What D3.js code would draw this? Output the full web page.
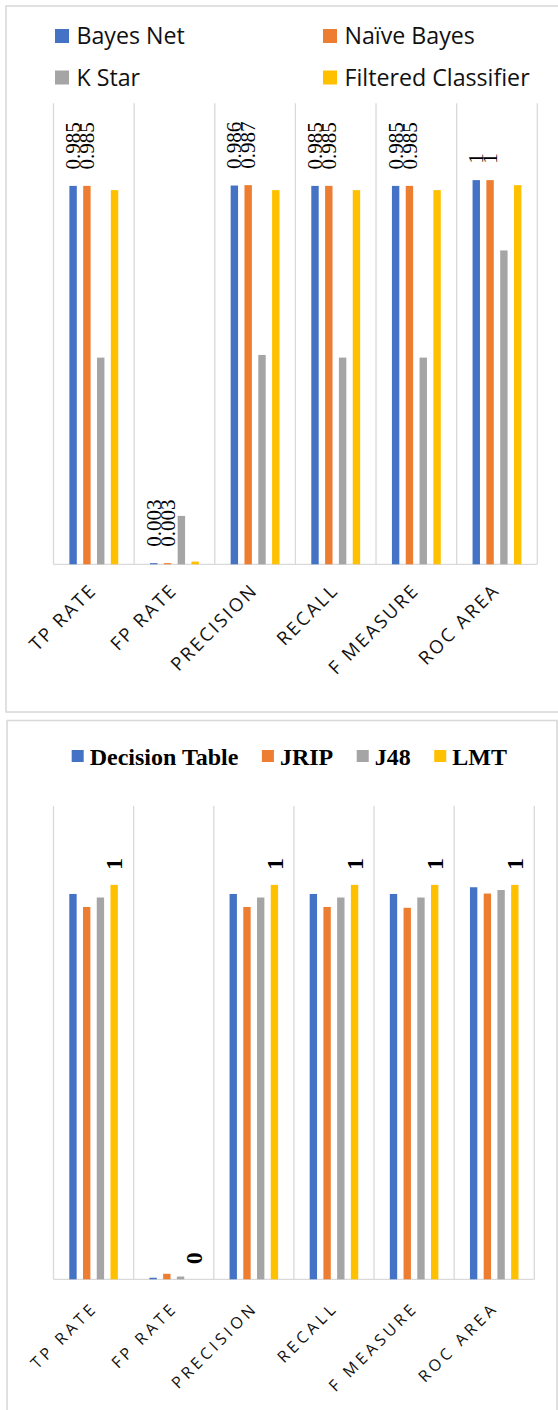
<!DOCTYPE html>
<html>
<head>
<meta charset="utf-8">
<script src="https://cdn.jsdelivr.net/npm/d3@7"></script>
<style>
  html, body { margin: 0; padding: 0; background: #fff; }
  svg { display: block; }
</style>
</head>
<body>
<svg id="chart" width="558" height="1410"></svg>
<script>
// Evaluation metrics shared by both charts
const metrics = ["TP RATE", "FP RATE", "PRECISION", "RECALL", "F MEASURE", "ROC AREA"];

// Chart 1: Bayes Net, Naïve Bayes, K Star, Filtered Classifier
const seriesA = ["Bayes Net", "Naïve Bayes", "K Star", "Filtered Classifier"];
const bayesNet = [0.985, 0.003, 0.986, 0.985, 0.985, 1];
const naiveBayes = [0.985, 0.003, 0.987, 0.985, 0.985, 1];
const kStar = [0.538, 0.126, 0.545, 0.538, 0.538, 0.817];
const filteredClassifier = [0.974, 0.007, 0.974, 0.974, 0.974, 0.987];
const labelledA = ["Bayes Net", "Naïve Bayes"];

// Chart 2: Decision Table, JRIP, J48, LMT
const seriesB = ["Decision Table", "JRIP", "J48", "LMT"];
const decisionTable = [0.977, 0.004, 0.977, 0.977, 0.977, 0.994];
const jrip = [0.944, 0.014, 0.944, 0.944, 0.942, 0.978];
const j48 = [0.968, 0.007, 0.968, 0.968, 0.968, 0.987];
const lmt = [1, 0, 1, 1, 1, 1];
const labelledB = ["LMT"];

const yMax = 1.2;
const colors = ["#4472C4", "#ED7D31", "#A5A5A5", "#FFC000"];
const gridColor = "#d9d9d9";

const svg = d3.select("#chart");
svg.append("rect").attr("width", 558).attr("height", 1410).attr("fill", "#fff");

function buildRows(names, arrays) {
  return metrics.map((m, i) => ({
    metric: m,
    values: names.map((s, j) => ({ series: s, value: arrays[j][i] }))
  }));
}

function drawChart(cfg) {
  const g = svg.append("g");
  const rows = buildRows(cfg.series, cfg.values);

  // outer frame
  g.append("rect")
    .attr("x", cfg.frame[0]).attr("y", cfg.frame[1])
    .attr("width", cfg.frame[2]).attr("height", cfg.frame[3])
    .attr("fill", "none").attr("stroke", gridColor).attr("stroke-width", 1.6);

  const x0 = d3.scaleBand().domain(metrics).range([cfg.plot.left, cfg.plot.right]).padding(0);
  const x1 = d3.scaleBand().domain(cfg.series).range([0, x0.bandwidth()])
    .paddingInner(0.464).paddingOuter(1.15);
  const y = d3.scaleLinear().domain([0, yMax]).range([cfg.plot.bottom, cfg.plot.top]);
  const color = d3.scaleOrdinal().domain(cfg.series).range(colors);

  // vertical category separators
  const edges = metrics.map(m => x0(m)).concat([x0(metrics[metrics.length - 1]) + x0.bandwidth()]);
  g.selectAll("line.sep").data(edges).join("line")
    .attr("class", "sep")
    .attr("x1", d => d).attr("x2", d => d)
    .attr("y1", y(yMax)).attr("y2", y(0))
    .attr("stroke", gridColor).attr("stroke-width", 1.3);

  // category axis line
  g.append("line")
    .attr("x1", cfg.plot.left).attr("x2", cfg.plot.right)
    .attr("y1", y(0)).attr("y2", y(0))
    .attr("stroke", gridColor).attr("stroke-width", 1.3);

  // bars
  const groups = g.selectAll("g.cat").data(rows).join("g")
    .attr("class", "cat")
    .attr("transform", d => `translate(${x0(d.metric)},0)`);

  groups.selectAll("rect").data(d => d.values).join("rect")
    .attr("x", d => x1(d.series))
    .attr("width", x1.bandwidth())
    .attr("y", d => y(d.value))
    .attr("height", d => y(0) - y(d.value))
    .attr("fill", d => color(d.series));

  // rotated value labels
  groups.selectAll("text.val").data(d => d.values.filter(v => cfg.labelled.includes(v.series))).join("text")
    .attr("class", "val")
    .attr("transform", d => `translate(${x1(d.series) + x1.bandwidth() / 2},${y(d.value) - cfg.labelGap}) rotate(-90)`)
    .attr("dy", "0.34em")
    .attr("text-anchor", "start")
    .attr("font-family", "'Liberation Serif', 'Times New Roman', serif")
    .attr("font-size", cfg.labelSize)
    .attr("font-weight", cfg.labelWeight)
    .attr("fill", "#000")
    .text(d => d3.format("")(d.value));

  // category labels, rotated 45°
  g.selectAll("text.cat").data(metrics).join("text")
    .attr("class", "cat")
    .attr("transform", d => `translate(${x0(d) + x0.bandwidth() / 2 + cfg.tick.dx},${y(0) + cfg.tick.dy}) rotate(-45)`)
    .attr("text-anchor", "end")
    .attr("font-family", "'Open Sans', 'Noto Sans', sans-serif")
    .attr("font-size", cfg.tick.size)
    .attr("letter-spacing", cfg.tick.spacing)
    .attr("fill", "#111")
    .text(d => d);

  return { color };
}

// ---------- Chart 1 ----------
const c1 = drawChart({
  series: seriesA,
  values: [bayesNet, naiveBayes, kStar, filteredClassifier],
  labelled: labelledA,
  frame: [6, 6, 600, 706],
  plot: { left: 53.5, right: 537.3, top: 103.3, bottom: 564.3 },
  labelGap: 16.5, labelSize: 21, labelWeight: "normal",
  tick: { dx: 4, dy: 27, size: 18.5, spacing: 2.3 }
});

// legend for chart 1: two columns, two rows
const legA = svg.append("g").attr("font-family", "'Open Sans', 'Noto Sans', sans-serif").attr("font-size", 23.2);
const legPosA = [[55, 36], [323, 36], [55, 77.5], [323, 77.5]];
seriesA.forEach((s, i) => {
  const [lx, ly] = legPosA[i];
  legA.append("rect").attr("x", lx).attr("y", ly - 7).attr("width", 14).attr("height", 14).attr("fill", c1.color(s));
  legA.append("text").attr("x", lx + 21.5).attr("y", ly + 8).attr("fill", "#111").text(s);
});

// ---------- Chart 2 ----------
const c2 = drawChart({
  series: seriesB,
  values: [decisionTable, jrip, j48, lmt],
  labelled: labelledB,
  frame: [7, 720.5, 550, 720],
  plot: { left: 53.5, right: 534.3, top: 806, bottom: 1279.3 },
  labelGap: 15, labelSize: 24, labelWeight: "bold",
  tick: { dx: 5, dy: 29.5, size: 16, spacing: 3.7 }
});

// legend for chart 2: one centred row
const legB = svg.append("g")
  .attr("font-family", "'Liberation Serif', 'Times New Roman', serif")
  .attr("font-size", 24).attr("font-weight", "bold");
const items = legB.selectAll("g").data(seriesB).join("g");
items.append("rect").attr("width", 12).attr("height", 12).attr("y", -6).attr("fill", d => c2.color(d));
items.append("text").attr("x", 18).attr("y", 8.5).attr("fill", "#000").text(d => d);
let cursor = 0;
const widths = [];
items.each(function () { widths.push(18 + this.querySelector("text").getComputedTextLength()); });
const gap = 23.5;
const total = d3.sum(widths) + gap * (widths.length - 1);
const startX = 289.3 - total / 2;
items.attr("transform", (d, i) => {
  const tx = startX + cursor;
  cursor += widths[i] + gap;
  return `translate(${tx},756)`;
});
</script>
</body>
</html>
